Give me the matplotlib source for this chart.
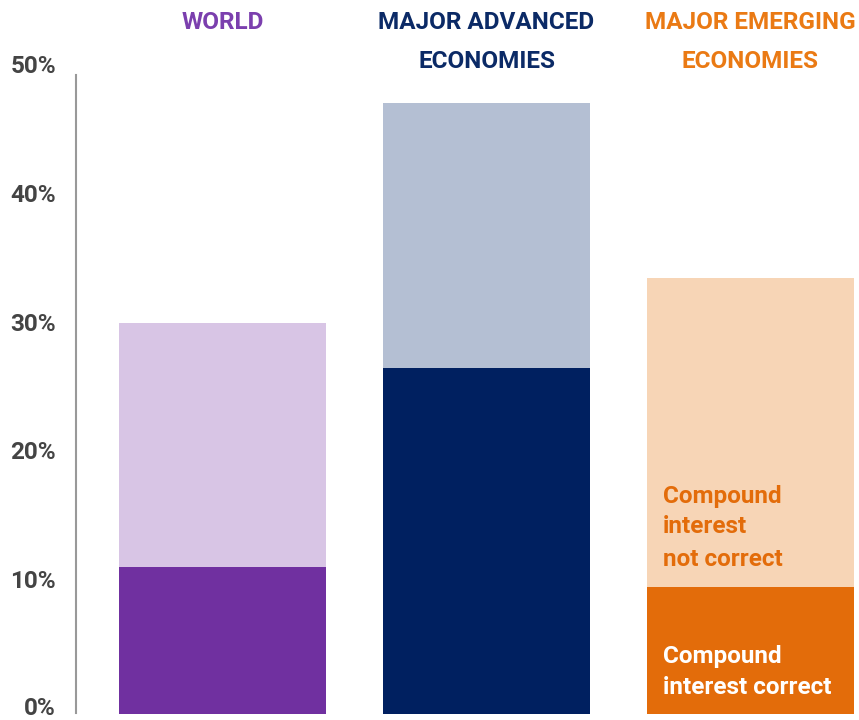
import matplotlib
matplotlib.use("Agg")
import matplotlib.pyplot as plt
import matplotlib.transforms as mtransforms

categories = ["WORLD", "MAJOR ADVANCED\nECONOMIES", "MAJOR EMERGING\nECONOMIES"]
correct = [11.5, 27.05, 9.95]
total = [30.6, 47.8, 34.1]
not_correct = [t - c for t, c in zip(total, correct)]
yticks = [0, 10, 20, 30, 40, 50]
ytick_labels = ["0%", "10%", "20%", "30%", "40%", "50%"]

dark_colors = ["#7030A0", "#002060", "#E36C0A"]
light_colors = ["#D8C5E5", "#B4BFD3", "#F7D5B6"]
title_colors = ["#7B3FAE", "#0B2A66", "#EA7A14"]

plt.rcParams['font.family'] = ['Roboto', 'DejaVu Sans']

W, H = 859, 720
fig = plt.figure(figsize=(W/100, H/100), dpi=100)
ax = fig.add_axes([76/W, 4/H, 1 - 76/W, (716-75)/H])

x = list(range(len(categories)))
w = 0.784
ax.bar(x, correct, width=w, color=dark_colors, zorder=2)
ax.bar(x, not_correct, bottom=correct, width=w, color=light_colors, zorder=2)

ax.set_xlim(-0.555, 2.411)
ax.set_ylim(-0.15, 50)

for s in ["top", "right", "bottom"]:
    ax.spines[s].set_visible(False)
ax.spines["left"].set_color("#999999")
ax.spines["left"].set_linewidth(1.5)
ax.spines["left"].set_bounds(0.1, 50)
ax.set_xticks([])
ax.set_yticks([])

def fy(py):
    return 1 - py / H

# y tick labels (baselines)
for v, lab in zip(yticks, ytick_labels):
    fig.text(56/W, fy(min(715, 717 - v*12.88)), lab, ha="right", va="baseline",
             fontsize=17.5, fontweight="bold", color="#444444")

# category titles
tx = mtransforms.blended_transform_factory(ax.transData, fig.transFigure)
baselines = [29, 68]
for xi, cat, col in zip(x, categories, title_colors):
    for line, b in zip(cat.split("\n"), baselines):
        ax.text(xi, fy(b), line, transform=tx, ha="center", va="baseline",
                fontsize=17.5, fontweight="bold", color=col)

# inside labels on the emerging bar
lx = 663/W
for line, b in zip(["Compound", "interest", "not correct"], [503, 533, 566]):
    fig.text(lx, fy(b), line, ha="left", va="baseline", fontsize=17.5,
             fontweight="bold", color="#E36C0A")
for line, b in zip(["Compound", "interest correct"], [663, 694]):
    fig.text(lx, fy(b), line, ha="left", va="baseline", fontsize=17.5,
             fontweight="bold", color="white")

fig.savefig("out.png", dpi=100)
